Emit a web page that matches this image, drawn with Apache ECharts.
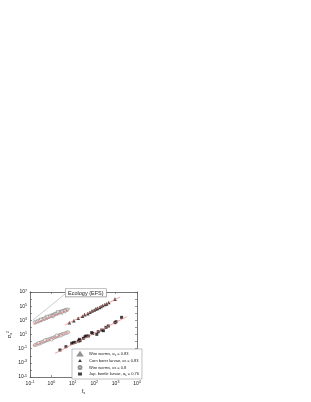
<!DOCTYPE html>
<html><head><meta charset="utf-8">
<script src="https://cdn.jsdelivr.net/npm/echarts@6/dist/echarts.min.js"></script>
<style>html,body{margin:0;padding:0;background:#fff}#c{width:311px;height:402px}</style>
</head><body><div id="c"></div>
<script>
// mean (f_s) and variance values
const wireWorms83 = [[0.17,417],[0.20,562],[0.24,631],[0.28,794],[0.33,1000],[0.38,1122],[0.45,1413],[0.50,1514],[0.58,1995],[0.66,2239],[0.76,2818],[0.87,3162],[1.0,3981],[1.12,4169],[1.26,5248],[1.41,5623],[1.58,7079],[1.78,7943],[2.0,8913],[2.29,11220],[2.63,12590],[3.02,15850],[3.55,17780],[4.17,22390],[5.01,26300],[5.75,28840],[0.63,2818],[1.26,3548],[2.0,12590],[3.16,11220],[0.32,1122],[4.47,17780]];
const cornBorer83 = [[6.9,457],[11.2,891],[17.8,1995],[28.2,3802],[35.5,6310],[50.1,8913],[63.1,14130],[79.4,21380],[100,28840],[120,41690],[141,48980],[178,66070],[209,89130],[251,125900],[316,169800],[380,213800],[479,323600],[933,1000000]];
const wireWorms80 = [[0.17,0.32],[0.20,0.38],[0.23,0.50],[0.28,0.56],[0.32,0.71],[0.36,0.79],[0.42,1.0],[0.48,1.12],[0.55,1.41],[0.63,1.58],[0.72,1.91],[0.83,2.24],[0.95,2.63],[1.10,3.02],[1.26,3.55],[1.45,4.17],[1.66,5.01],[1.91,5.62],[2.19,7.08],[2.51,7.94],[2.88,9.55],[3.31,11.2],[3.80,12.6],[4.47,15.1],[5.25,17.8],[6.03,20.4],[0.50,1.58],[1.0,2.0],[1.78,7.08],[2.82,7.08],[0.25,0.63]];
const japBeetle76 = [[2.51,0.065],[4.79,0.19],[8.91,0.56],[10.5,0.69],[12.6,0.78],[18.2,1.20],[20.4,2.04],[21.9,1.35],[30.9,2.88],[37.2,4.90],[41.7,6.17],[53.7,6.17],[75.9,18.2],[85.1,14.5],[132,10.5],[155,25.1],[224,42.7],[269,34.7],[355,102],[457,158],[933,468],[1047,646],[1905,2630]];
const fitWire83 = [[0.141,316],[7.08,35480]];
const fitCorn83 = [[4.37,219],[1622,1950000]];
const fitWire80 = [[0.141,0.251],[7.08,25.1]];
const fitJap76 = [[1.48,0.0219],[3311,3236]];
const calloutLine = [[0.138,1122],[4.37,5250000]];
const xTicksExp = [-1,0,1,2,3,4];
const yTicksExp = [-5,-3,-1,1,3,5,7];
const names = ['Wire worms, α{sub|s} = 0.83','Corn borer larvae, α{sub|s} = 0.83','Wire worms, α{sub|s} = 0.8','Jap. beetle larvae, α{sub|s} = 0.76'];

const L = a => a.map(p => [Math.log10(p[0]), Math.log10(p[1])]);
const font = 'Liberation Sans';
const rich = {sup:{fontSize:3.6,fontFamily:font,color:'#222',padding:[0,0,3,0]}, b:{fontSize:5,fontFamily:font,color:'#222'}};
const powLabel = v => '{b|10}{sup|' + v + '}';
const chart = echarts.init(document.getElementById('c'), null, {renderer:'canvas'});
const axisCommon = {axisLine:{show:true,onZero:false,lineStyle:{color:'#555',width:0.8}}, axisTick:{show:true,inside:true,length:2,lineStyle:{color:'#555',width:0.6}}, splitLine:{show:false}};
const fitLine = (d) => ({type:'line', data:L(d), showSymbol:false, symbol:'none', lineStyle:{color:'#f07878',width:0.7}, z:5, silent:true});
chart.setOption({
  animation:false,
  grid:{left:30, top:292, width:107, height:85},
  xAxis:[
    Object.assign({type:'value', min:-1, max:4, interval:1, position:'bottom',
      name:'f{sub|s}', nameLocation:'middle', nameGap:11,
      nameTextStyle:{fontSize:5.5,fontFamily:font,color:'#222',rich:{sub:{fontSize:3.8,fontFamily:font,padding:[3,0,0,0]}}},
      axisLabel:{fontSize:5,margin:3,fontFamily:font,color:'#222',formatter:v=>xTicksExp.includes(v)?powLabel(v):'',rich:rich}}, axisCommon),
    Object.assign({type:'value', min:-1, max:4, interval:1, position:'top', axisLabel:{show:false}}, axisCommon)
  ],
  yAxis:[
    Object.assign({type:'value', min:-5, max:7, interval:1, position:'left',
      name:'σ{sub|s}{sup|2}', nameLocation:'middle', nameGap:17, nameRotate:90,
      nameTextStyle:{fontSize:5.5,fontFamily:font,color:'#222',rich:{sub:{fontSize:3.8,fontFamily:font,padding:[3,0,0,0]},sup:{fontSize:3.8,fontFamily:font,padding:[0,0,3,0]}}},
      axisLabel:{fontSize:5,margin:3,fontFamily:font,color:'#222',formatter:v=>yTicksExp.includes(v)?powLabel(v):'',rich:rich}}, axisCommon),
    Object.assign({type:'value', min:-5, max:7, interval:1, position:'right', axisLabel:{show:false}}, axisCommon)
  ],
  legend:{
    left:72, top:349, orient:'vertical', itemWidth:4, itemHeight:3, itemGap:2,
    padding:[2.5,3,2.5,5], backgroundColor:'#fff', borderColor:'#999', borderWidth:0.6,
    data:names,
    textStyle:{fontSize:4,lineHeight:4,fontFamily:font,color:'#222',padding:[0,0,0,2],rich:{sub:{fontSize:3,fontFamily:font,padding:[2,0,0,0]}}},
    formatter: n => n
  },
  graphic:[{type:'text', left:65, top:288.5, z:100,
    style:{text:'Ecology (EFS)', fontSize:5.5, fontFamily:font, fill:'#222', backgroundColor:'#fff', borderColor:'#888', borderWidth:0.6, padding:[1,2.5,0.5,2.5]}}],
  series:[
    {type:'line', data:L(calloutLine), showSymbol:false, symbol:'none', lineStyle:{color:'#aaa',width:0.6}, z:1, silent:true},
    {name:names[0], type:'scatter', data:L(wireWorms83), symbol:'triangle', symbolRotate:180, symbolSize:3.6, itemStyle:{color:'#fff',borderColor:'#777',borderWidth:0.6}, z:3},
    {name:names[1], type:'scatter', data:L(cornBorer83), symbol:'triangle', symbolSize:3.6, itemStyle:{color:'#111'}, z:3},
    {name:names[2], type:'scatter', data:L(wireWorms80), symbol:'circle', symbolSize:3.2, itemStyle:{color:'#fff',borderColor:'#777',borderWidth:0.6}, z:3},
    {name:names[3], type:'scatter', data:L(japBeetle76), symbol:'rect', symbolSize:3, itemStyle:{color:'#111'}, z:3},
    fitLine(fitWire83), fitLine(fitCorn83), fitLine(fitWire80), fitLine(fitJap76)
  ]
});
</script></body></html>
